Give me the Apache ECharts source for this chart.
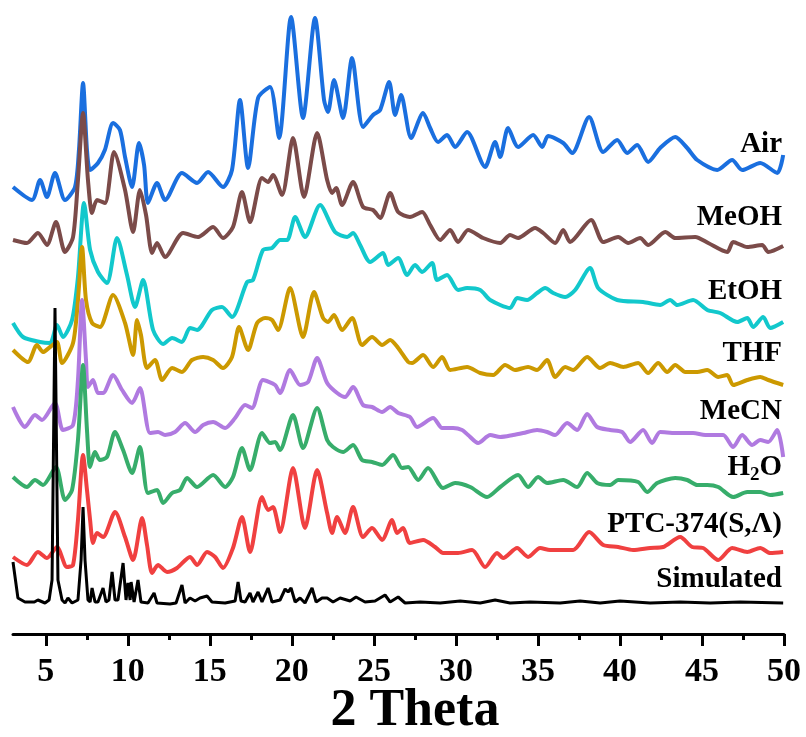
<!DOCTYPE html>
<html>
<head>
<meta charset="utf-8">
<script src="https://cdn.jsdelivr.net/npm/echarts@6/dist/echarts.min.js"></script>
<style>
  html, body { margin: 0; padding: 0; background: #fff; }
  #chart { width: 806px; height: 737px; }
</style>
</head>
<body>
<div id="chart"></div>
<script>
// [2theta, intensity above own baseline] (a.u.)
const airData = [[3.0,27],[4.16,14],[4.65,34],[5.07,17],[5.56,41],[6.17,14],[6.78,27],[7.02,64],[7.27,131],[7.51,64],[7.7,44],[8.18,51],[8.6,64],[9.1,91],[9.52,84],[9.83,57],[10.26,27],[10.68,71],[10.99,49],[11.23,11],[11.78,31],[12.27,14],[13.3,41],[14.22,31],[14.89,42],[15.8,27],[16.35,44],[16.84,114],[17.33,46],[17.94,116],[18.67,127],[19.22,76],[19.95,197],[20.68,96],[21.41,196],[21.96,114],[22.2,102],[22.57,134],[23.12,96],[23.67,156],[24.34,87],[24.95,99],[25.38,104],[25.93,132],[26.29,99],[26.66,119],[27.27,76],[28.0,101],[28.43,86],[28.91,72],[29.46,79],[29.95,67],[30.68,82],[31.78,47],[32.39,72],[32.7,57],[33.18,86],[33.79,67],[34.71,79],[35.26,67],[35.62,78],[36.54,71],[37.09,61],[38.12,97],[38.98,62],[39.83,74],[40.44,61],[41.05,69],[41.72,52],[42.45,66],[43.37,77],[44.1,66],[44.71,54],[45.93,44],[46.84,54],[47.45,44],[48.55,51],[49.59,41],[49.95,59]];
const meohData = [[3.0,24],[3.85,21],[4.52,31],[5.07,19],[5.62,42],[6.17,12],[6.66,27],[6.96,84],[7.27,151],[7.57,84],[7.82,51],[8.12,64],[8.61,61],[9.16,112],[9.83,74],[10.32,32],[10.74,74],[11.11,49],[11.48,11],[11.78,21],[12.27,7],[13.37,31],[14.28,27],[15.2,37],[15.8,26],[16.41,37],[16.96,72],[17.45,42],[18.18,86],[18.55,82],[18.85,89],[19.4,69],[20.07,126],[20.74,67],[21.54,131],[22.15,84],[22.45,71],[22.7,76],[23.06,59],[23.73,82],[24.34,57],[24.95,54],[25.38,46],[25.99,71],[26.48,52],[27.2,47],[27.94,52],[28.43,39],[29.04,24],[29.65,34],[30.13,22],[30.74,34],[31.66,26],[32.7,21],[33.3,29],[33.79,26],[34.83,36],[35.32,31],[36.05,21],[36.54,34],[36.96,22],[38.24,44],[38.98,22],[39.89,27],[40.5,21],[41.23,26],[41.72,19],[42.76,32],[43.37,26],[44.59,27],[45.38,21],[46.54,12],[46.9,22],[47.76,17],[48.67,19],[49.04,12],[49.95,18]];
const etohData = [[3.0,21],[3.61,7],[4.65,2],[5.26,1],[5.68,19],[6.05,7],[6.6,24],[6.96,67],[7.33,141],[7.7,94],[8.18,72],[8.73,61],[9.34,106],[9.95,69],[10.44,37],[10.93,64],[11.54,14],[12.15,0],[12.7,6],[13.3,2],[13.79,16],[14.22,14],[15.13,34],[15.74,37],[16.35,27],[17.27,62],[17.63,64],[18.24,94],[18.79,96],[19.28,104],[19.71,104],[20.2,127],[20.8,107],[21.72,139],[22.63,112],[23.37,107],[23.73,111],[24.16,99],[24.77,82],[25.56,91],[25.87,79],[26.48,86],[27.02,69],[27.51,79],[27.94,72],[28.55,81],[28.85,64],[29.46,69],[30.13,54],[30.68,56],[31.48,54],[32.09,44],[33.3,36],[33.73,46],[34.34,44],[34.95,51],[35.44,56],[35.93,51],[36.66,47],[37.27,54],[38.18,76],[38.67,56],[39.83,44],[41.41,42],[42.45,39],[43.06,44],[43.49,39],[44.46,44],[45.32,34],[46.11,31],[47.15,22],[47.76,26],[48.12,17],[48.73,27],[49.16,16],[49.95,22]];
const thfData = [[3.0,44],[3.91,32],[4.46,49],[4.83,42],[5.26,47],[5.68,52],[5.99,31],[6.66,51],[6.96,94],[7.21,147],[7.45,94],[7.82,71],[8.3,67],[9.1,99],[9.83,71],[10.32,39],[10.56,74],[10.8,59],[11.17,26],[11.66,34],[12.09,14],[12.7,26],[13.3,22],[13.91,34],[14.59,37],[15.2,34],[15.8,26],[16.35,37],[16.78,67],[17.33,44],[17.88,71],[18.37,76],[18.79,74],[19.16,64],[19.89,106],[20.68,57],[21.35,102],[21.9,76],[22.2,72],[22.57,79],[23.06,64],[23.67,76],[24.28,49],[24.89,57],[25.5,49],[25.99,54],[26.48,46],[27.09,32],[27.33,31],[28.0,39],[28.61,27],[29.16,37],[29.65,24],[30.68,27],[31.48,21],[32.27,19],[33.0,29],[33.61,24],[34.4,27],[34.95,24],[35.56,34],[36.05,17],[36.66,27],[37.15,24],[38.0,37],[38.79,26],[39.4,31],[40.2,27],[41.11,31],[41.72,21],[42.33,31],[42.88,22],[43.37,29],[43.98,22],[44.71,22],[45.32,24],[45.99,17],[46.54,19],[46.9,9],[47.76,14],[48.55,17],[49.04,14],[49.95,9]];
const mecnData = [[3.0,57],[3.73,37],[4.34,49],[4.77,44],[5.56,61],[6.05,34],[6.66,39],[6.96,84],[7.21,164],[7.45,104],[7.57,77],[7.88,84],[8.18,71],[8.49,71],[9.1,89],[9.65,74],[10.26,61],[10.74,76],[11.35,31],[11.84,32],[12.27,29],[12.88,32],[13.49,41],[14.1,32],[14.59,39],[15.2,42],[15.93,36],[16.54,46],[17.15,59],[17.57,56],[18.24,84],[18.98,79],[19.28,71],[19.89,94],[20.5,79],[20.99,82],[21.54,106],[22.15,81],[22.76,71],[23.24,67],[23.73,77],[24.34,59],[24.89,57],[25.5,52],[25.99,57],[26.48,51],[27.2,47],[27.63,37],[28.61,46],[29.16,36],[29.83,36],[30.38,34],[30.74,29],[31.35,21],[32.09,29],[32.7,27],[33.49,29],[34.1,31],[34.95,34],[35.56,32],[36.05,29],[36.78,41],[37.39,34],[38.0,50],[38.61,37],[39.4,34],[40.13,32],[40.62,22],[41.41,34],[41.96,21],[42.45,32],[43.37,31],[44.46,31],[45.2,29],[46.29,29],[46.9,17],[47.45,29],[48.06,19],[48.55,24],[49.04,22],[49.59,34],[49.95,7]];
const h2oData = [[3.0,27],[3.85,17],[4.34,24],[4.83,19],[5.62,37],[6.17,4],[6.6,14],[6.96,64],[7.27,139],[7.51,74],[7.7,37],[8.0,52],[8.3,44],[8.73,47],[9.22,72],[9.71,54],[10.26,31],[10.74,57],[11.23,11],[11.78,14],[12.15,1],[12.7,11],[13.18,14],[13.61,26],[14.22,17],[15.2,29],[15.93,17],[16.41,27],[16.96,56],[17.45,34],[18.18,71],[18.67,61],[18.98,62],[19.28,54],[20.07,89],[20.68,56],[21.54,96],[22.15,64],[22.51,57],[23.12,52],[23.73,59],[24.28,44],[24.89,42],[25.5,39],[26.17,49],[26.72,36],[27.09,37],[27.7,24],[28.3,36],[29.22,16],[29.95,21],[30.87,17],[31.9,7],[32.7,17],[33.79,29],[34.4,17],[35.01,27],[35.56,21],[36.54,24],[37.39,17],[38.0,31],[38.61,21],[39.4,19],[39.89,24],[41.11,22],[41.66,12],[42.27,21],[43.37,26],[44.1,24],[44.71,19],[45.32,19],[45.99,17],[46.9,7],[47.76,12],[48.55,12],[49.16,9],[49.95,11]];
const ptcData = [[3.0,17],[3.85,9],[4.52,22],[5.07,16],[5.68,27],[6.29,7],[6.66,9],[6.96,54],[7.27,119],[7.51,84],[7.7,54],[7.88,31],[8.12,41],[8.49,37],[9.22,62],[9.83,37],[10.32,14],[10.87,56],[11.17,29],[11.48,1],[11.84,9],[12.39,2],[13.0,6],[13.79,17],[14.22,9],[14.83,22],[15.32,17],[15.8,6],[16.41,26],[16.96,57],[17.45,22],[18.18,77],[18.55,64],[18.85,67],[19.28,42],[20.07,106],[20.8,46],[21.54,104],[22.15,61],[22.45,41],[22.76,57],[23.24,41],[23.73,67],[24.34,37],[24.89,46],[25.5,34],[26.11,54],[26.41,41],[26.78,46],[27.2,31],[28.0,34],[28.73,27],[29.22,21],[30.13,21],[30.99,24],[31.78,7],[32.51,21],[32.88,16],[33.73,26],[34.4,17],[35.13,26],[35.74,24],[37.15,24],[38.12,42],[38.98,29],[39.89,27],[40.8,24],[41.84,26],[42.63,27],[43.67,37],[44.4,27],[45.07,26],[45.99,14],[46.84,26],[47.76,22],[48.55,26],[49.16,21],[49.95,22]];
const simData = [[3.0,44],[3.12,46],[3.3,8],[3.73,4],[4.3,4],[4.52,6],[4.95,3],[5.2,6],[5.38,26],[5.56,298],[5.74,26],[5.99,6],[6.17,3],[6.35,8],[6.6,3],[6.96,6],[7.15,46],[7.27,99],[7.39,46],[7.57,6],[7.7,4],[7.82,18],[8.0,4],[8.18,4],[8.49,18],[8.67,4],[8.85,6],[9.04,34],[9.22,6],[9.4,6],[9.71,43],[9.89,6],[10.01,23],[10.14,6],[10.2,24],[10.38,4],[10.62,26],[10.8,4],[11.23,3],[11.6,13],[11.78,3],[12.57,2],[12.94,3],[13.3,21],[13.49,3],[13.79,8],[14.1,5],[14.4,8],[14.83,10],[15.13,4],[15.93,3],[16.54,5],[16.72,24],[16.9,5],[17.15,4],[17.45,13],[17.63,4],[17.94,14],[18.18,4],[18.55,18],[18.79,4],[19.28,6],[19.59,17],[19.77,14],[19.95,18],[20.2,4],[20.5,8],[20.8,3],[21.23,18],[21.48,4],[21.84,8],[22.15,8],[22.51,4],[22.94,8],[23.55,5],[23.91,9],[24.46,4],[25.07,5],[25.68,11],[25.99,4],[26.48,9],[26.9,3],[27.82,4],[29.04,3],[30.26,5],[31.48,3],[32.39,6],[33.3,3],[34.52,4],[36.35,3],[37.57,5],[38.79,3],[40.0,5],[41.84,3],[43.67,4],[45.5,3],[47.33,4],[49.95,3]];

const names = ['Air', 'MeOH', 'EtOH', 'THF', 'MeCN', 'H2O', 'PTC-374(S,Λ)', 'Simulated'];
const patterns = [airData, meohData, etohData, thfData, mecnData, h2oData, ptcData, simData];
const offsets = [420, 370, 290, 240, 170, 130, 60, 28];
const colors = ['#1a6fdf', '#7b4b49', '#12c8cc', '#cc9900', '#b07ae0', '#37ad6b', '#f04040', '#000000'];
const labelTexts = ['Air', 'MeOH', 'EtOH', 'THF', 'MeCN', 'H{sub|2}O', 'PTC-374(S,Λ)', 'Simulated'];
const labelY = [143, 216, 290, 352, 410, 466, 523, 578];

const serif = '"Liberation Serif", "Times New Roman", serif';

// plot area: 2theta 3..50 ; tick axis starts at 5 so interval 5 lines up
const plotLeft = 13, plotRight = 22, plotBottom = 103;
const pxPerDeg = (806 - plotLeft - plotRight) / (50 - 3);

const chart = echarts.init(document.getElementById('chart'));

const series = patterns.map((pts, i) => ({
  name: names[i],
  type: 'line',
  xAxisIndex: 0,
  yAxisIndex: 0,
  data: pts.map(p => [p[0], p[1] + offsets[i]]),
  showSymbol: false,
  smooth: i === 7 ? false : 0.25,
  lineStyle: { color: colors[i], width: i === 7 ? 3 : 4 },
  z: 2 + i,
  silent: true
}));

const option = {
  animation: false,
  backgroundColor: '#fff',
  grid: [
    { left: plotLeft, right: plotRight, top: 0, bottom: plotBottom, outerBoundsMode: 'none' },
    { left: plotLeft + 2 * pxPerDeg, right: plotRight, top: 0, bottom: plotBottom, outerBoundsMode: 'none' }
  ],
  xAxis: [
    {
      gridIndex: 0,
      type: 'value',
      min: 3,
      max: 50,
      axisLine: { onZero: false, lineStyle: { color: '#000', width: 3 } },
      axisTick: { show: false },
      axisLabel: { show: false },
      splitLine: { show: false }
    },
    {
      gridIndex: 1,
      type: 'value',
      min: 5,
      max: 50,
      interval: 5,
      name: '2 Theta',
      nameLocation: 'middle',
      nameGap: 52,
      nameMoveOverlap: false,
      nameTextStyle: { fontFamily: serif, fontWeight: 'bold', fontSize: 52, color: '#000', verticalAlign: 'top' },
      axisLine: { show: false, onZero: false },
      axisTick: { show: true, length: 12, lineStyle: { width: 3, color: '#000' } },
      minorTick: { show: true, splitNumber: 2, length: 6, lineStyle: { width: 3, color: '#000' } },
      axisLabel: { fontFamily: serif, fontWeight: 'bold', fontSize: 34, color: '#000', margin: 21 },
      splitLine: { show: false }
    }
  ],
  yAxis: [
    { gridIndex: 0, type: 'value', min: 0, max: 634, show: false },
    { gridIndex: 1, type: 'value', min: 0, max: 634, show: false }
  ],
  graphic: labelTexts.map((t, i) => ({
    type: 'text',
    right: 24,
    top: labelY[i] - 13,
    style: {
      text: t,
      fontFamily: serif,
      fontWeight: 'bold',
      fontSize: 29,
      fill: '#000',
      rich: { sub: { fontFamily: serif, fontWeight: 'bold', fontSize: 19, padding: [15, 0, 0, 0] } }
    }
  })),
  series: series
};

chart.setOption(option);
</script>
</body>
</html>
